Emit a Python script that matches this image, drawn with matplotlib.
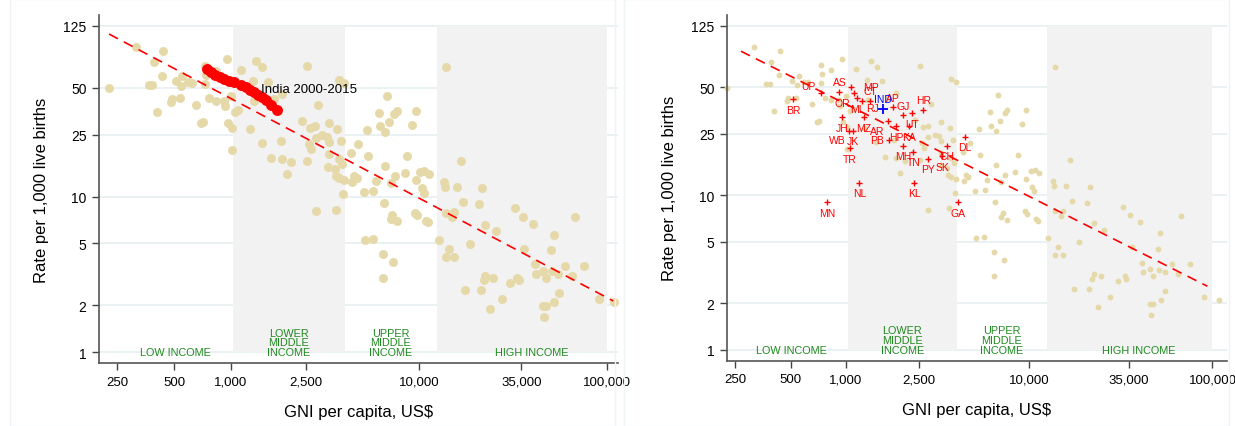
import numpy as np
import matplotlib.pyplot as plt

# GNI per capita (US$) and infant mortality rate (per 1,000 live births), by country
gni = [226, 315, 437, 391, 433, 368, 384, 510, 553, 543, 595, 625, 486, 480, 538, 408, 652, 693, 713, 730,
       742, 730, 767, 832, 952, 921, 932, 1000, 971, 1020, 1054, 1097, 1020, 1138, 1367, 1471, 1313, 1583,
       1329, 1261, 1460, 1642, 832,
       2549, 3757, 4000, 1878, 1697, 2917, 2398, 2636, 2801, 3323, 3680, 1842, 2825, 3062, 3232, 2602, 2677,
       3323, 3835, 1878, 2096, 2530, 3323, 3757, 3911, 1982, 3296, 3576, 3608, 3757, 3992, 4365, 4755, 4512,
       4663, 4420, 3958, 2825, 3635,
       5307, 6125, 6730, 7357, 7603, 6922, 6200, 6568, 9590, 9130, 5372, 8655, 6590, 5098, 5713, 5880, 7420,
       8385, 10190, 10700, 11280, 9590, 7067, 6510, 7207, 7067, 7603, 9473, 9742, 10840, 11150, 5160, 5670,
       6430, 7268, 6408, 12750, 10360, 10610,
       13840, 13555, 13720, 16680, 15950, 21490, 17100, 20800, 15310, 14890, 13890, 22560, 25680, 18620,
       14400, 13890, 15310, 32550, 35600, 40220, 67200, 52000, 50300, 36350, 41220, 41880, 45450, 47550,
       50920, 54780, 59980, 65030, 75650, 22560, 22100, 24760, 30370, 33200, 33900, 17520, 21230, 27640,
       23780, 55240, 52450, 45450, 47330, 46020, 90130, 109100]
imr = [49.7, 91.2, 86.0, 73.1, 59.9, 52.5, 52.2, 55.1, 59.4, 51.7, 54.3, 53.8, 42.4, 40.8, 42.9, 35.2, 39.0,
       29.8, 30.3, 69.5, 60.6, 53.0, 42.9, 41.4, 76.7, 41.4, 38.1, 44.2, 29.8, 27.5, 34.9, 36.2, 20.0, 65.5,
       74.2, 67.9, 55.7, 54.8, 41.4, 27.2, 22.1, 17.7, 64.5,
       68.9, 56.5, 53.8, 45.7, 42.4, 39.0, 30.8, 27.6, 28.3, 29.8, 27.2, 22.7, 23.8, 24.7, 24.1, 21.8, 20.3,
       22.4, 22.9, 17.5, 16.6, 17.0, 18.8, 17.5, 16.2, 14.0, 15.6, 15.1, 13.6, 13.1, 12.7, 19.1, 21.8, 13.6,
       13.1, 12.4, 10.4, 8.06, 8.25,
       26.8, 34.4, 44.6, 34.0, 35.5, 30.1, 28.3, 25.9, 35.7, 29.0, 18.3, 18.3, 15.7, 10.7, 10.9, 12.6, 13.6,
       14.2, 14.4, 14.5, 14.0, 12.7, 12.2, 9.11, 7.63, 7.19, 6.95, 7.86, 7.57, 7.01, 6.85, 5.27, 5.35, 4.28,
       3.79, 2.99, 5.29, 11.4, 10.6,
       67.9, 12.4, 11.5, 16.9, 11.5, 11.3, 9.2, 8.98, 7.94, 7.37, 7.86, 6.58, 5.96, 4.97, 4.61, 4.10, 4.08,
       8.46, 7.44, 6.68, 7.37, 5.67, 4.50, 4.61, 3.66, 3.19, 3.32, 2.99, 3.30, 3.19, 3.57, 3.08, 3.57, 3.08,
       2.89, 3.00, 2.79, 2.99, 2.89, 2.49, 2.49, 2.18, 1.90, 2.39, 2.10, 1.99, 1.99, 1.69, 2.18, 2.10]

# India 2000-2015
india_gni = [751, 783, 825, 874, 921, 979, 1041, 1130, 1201, 1261, 1329, 1401, 1471, 1544, 1630, 1754]
india_imr = [66.2, 63.0, 60.6, 58.5, 57.1, 55.7, 54.3, 52.2, 50.5, 48.5, 46.9, 45.0, 43.5, 41.8, 38.8, 36.2]

# Indian states
states = ["BR", "UP", "AS", "MP", "OR", "ML", "RJ", "CT", "AP", "GJ", "HR", "UT", "JH", "MZ", "WB", "JK",
          "AR", "HP", "KA", "PB", "TR", "MH", "TN", "PY", "SK", "CH", "DL", "NL", "KL", "MN", "GA"]
state_gni = [517, 733, 923, 1069, 1110, 1157, 1223, 1357, 1805, 2047, 2653, 2293, 951, 1259, 1046, 1092,
             1708, 1882, 2225, 1730, 1056, 2047, 2339, 2803, 3368, 3560, 4480, 1187, 2360, 788, 4088]
state_imr = [41.9, 45.9, 46.8, 49.9, 45.9, 42.4, 40.9, 40.9, 37.1, 33.0, 35.8, 34.0, 31.9, 31.9, 26.2, 26.2,
             30.1, 27.9, 27.9, 22.9, 20.1, 20.9, 19.1, 17.2, 17.9, 20.9, 23.9, 12.0, 12.0, 9.0, 9.0]
all_india_gni = 1604
all_india_imr = 36.1

# log-log regression lines (log10 rate = a + b * log10 GNI) and their GNI span
fit_left = (3.554, -0.641, 226, 107600)
fit_right = (3.385, -0.598, 268, 93800)

# label placement (clock position) for state markers
label_pos = {"UP": 10, "AS": 12, "MP": 3, "OR": 7, "RJ": 4, "CT": 12, "AP": 12, "GJ": 12, "HR": 12,
             "WB": 7, "AR": 7, "PB": 9}

# World Bank income thresholds
income_names = ["LOW INCOME", "LOWER\nMIDDLE\nINCOME", "UPPER\nMIDDLE\nINCOME", "HIGH INCOME"]
income_ranges = [(250, 1025), (1025, 4035), (4035, 12475), (12475, 125000)]
shaded = [(1025, 4035), (12475, 100000)]

xticks = [250, 500, 1000, 2500, 10000, 35000, 100000]
yticks = [1, 2, 5, 10, 25, 50, 125]

sand = "#e6d9a9"
font = ["Liberation Sans", "DejaVu Sans"]

fig = plt.figure(figsize=(12.35, 4.27), dpi=100)


def setup(ax, xlim):
    ax.set_xscale("log")
    ax.set_yscale("log")
    ax.set_xlim(*xlim)
    ax.set_ylim(0.85, 147)
    for lo, hi in shaded:
        ax.fill_between([lo, hi], 1, 125, color="#f2f2f2", lw=0, zorder=1)
    for y in yticks:
        ax.axhline(y, color="#e8f0f1", lw=1.3, zorder=0.5)
    for name, (lo, hi) in zip(income_names, income_ranges):
        ax.text(np.sqrt(lo * hi), 0.93, name, color="#1f8a1f", fontsize=7.8, family=font,
                ha="center", va="bottom", linespacing=0.95, zorder=3)
    ax.set_xticks(xticks)
    ax.set_xticklabels([f"{v:,}" for v in xticks], family=font, fontsize=9.5)
    ax.set_yticks(yticks)
    ax.set_yticklabels([str(v) for v in yticks], family=font, fontsize=10)
    ax.minorticks_off()
    ax.tick_params(axis="both", length=5, width=1, color="#444444", pad=4)
    for side in ["top", "right"]:
        ax.spines[side].set_visible(False)
    for side in ["left", "bottom"]:
        ax.spines[side].set_color("#555555")
        ax.spines[side].set_linewidth(1.2)
    ax.set_xlabel("GNI per capita, US$", family=font, fontsize=12, labelpad=12)
    ax.set_ylabel("Rate per 1,000 live births", family=font, fontsize=12, labelpad=10)


def fit_line(ax, fit):
    a, b, x0, x1 = fit
    xs = np.array([x0, x1])
    ax.plot(xs, 10 ** (a + b * np.log10(xs)), color="red", lw=1.2, ls=(0, (6, 4)), zorder=4)


# left: countries with India's trajectory
ax1 = fig.add_axes([0.0802, 0.1475, 0.42, 0.815])
setup(ax1, (200, 113700))
ax1.scatter(gni, imr, s=42, color=sand, lw=0, zorder=2, clip_on=False)
fit_line(ax1, fit_left)
ax1.scatter(india_gni, india_imr, s=62, color="red", lw=0, zorder=5)
ax1.text(1450, 49, "India 2000-2015", family=font, fontsize=9.5, va="center", ha="left", zorder=6)

# right: countries with Indian states
ax2 = fig.add_axes([0.5887, 0.153, 0.4048, 0.8095])
setup(ax2, (225, 120000))
ax2.scatter(gni, imr, s=18, color=sand, lw=0, zorder=2, clip_on=False)
fit_line(ax2, fit_right)
ax2.scatter(state_gni, state_imr, marker="+", s=22, color="red", lw=1, zorder=5)
ax2.scatter([all_india_gni], [all_india_imr], marker="+", s=60, color="blue", lw=1.3, zorder=6)

offsets = {12: (0, 7), 6: (0, -7.5), 3: (9, 0), 9: (-4, 0), 10: (-4, 5), 7: (-3, -7), 4: (3, -5)}
for code, x, y in zip(states, state_gni, state_imr):
    dx, dy = offsets[label_pos.get(code, 6)]
    ha = "center" if dx == 0 else ("left" if dx > 0 else "right")
    ax2.annotate(code, (x, y), xytext=(dx, dy), textcoords="offset points", ha=ha, va="center",
                 color="red", fontsize=7.5, family=font, zorder=6)
ax2.annotate("IND", (all_india_gni, all_india_imr), xytext=(0, 7), textcoords="offset points",
             ha="center", va="center", color="blue", fontsize=7.5, family=font, zorder=6)

# faint panel frames
for x0, w in [(0.008, 0.49), (0.505, 0.49)]:
    fig.patches.append(plt.Rectangle((x0, 0.0), w, 1.0, transform=fig.transFigure, fill=False,
                                     edgecolor="#eef3f5", lw=1))

fig.savefig("out.png", dpi=100)
